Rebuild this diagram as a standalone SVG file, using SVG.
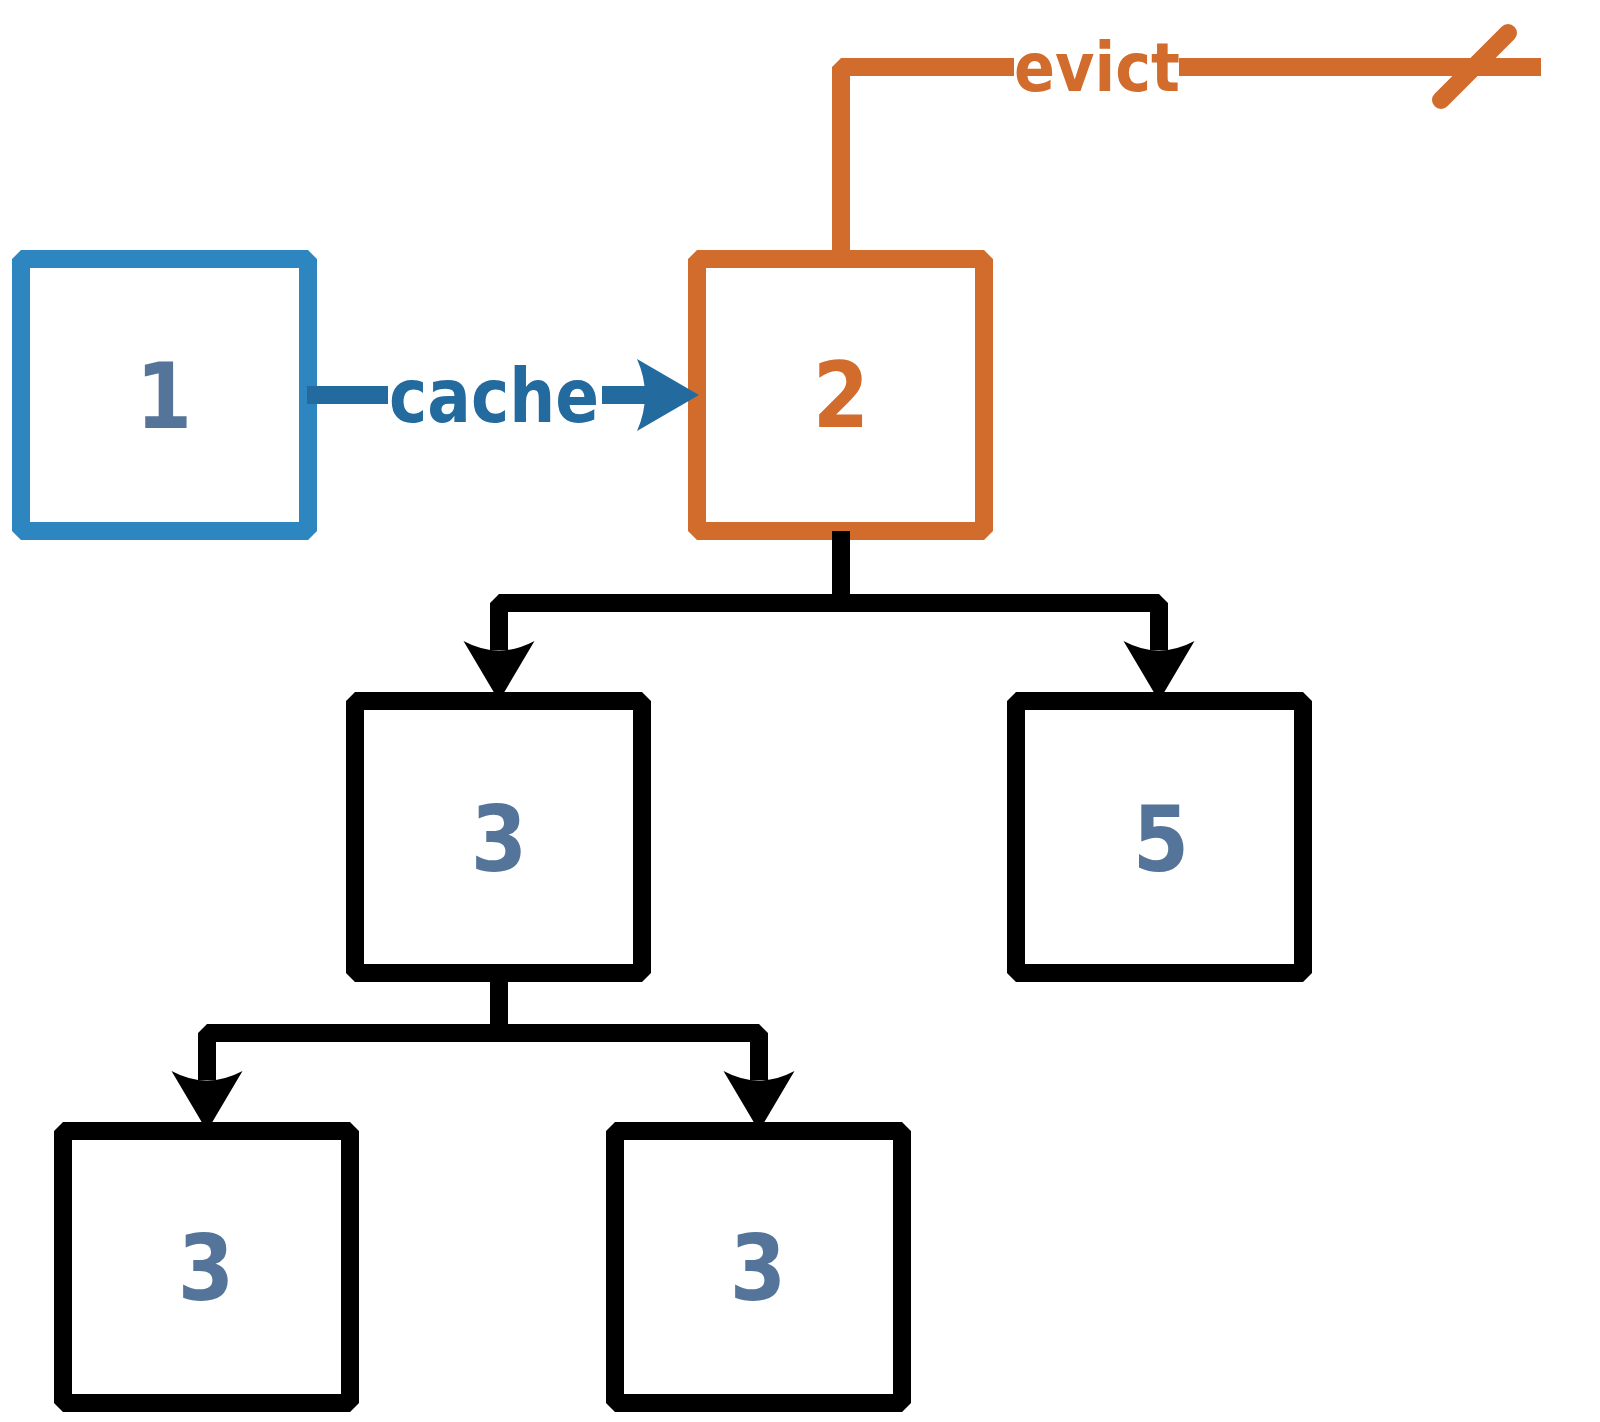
<svg xmlns="http://www.w3.org/2000/svg" width="1600" height="1422" viewBox="0 0 1600 1422">
<style>
.box{fill:#ffffff;stroke-width:18;stroke-linejoin:bevel}
.num{font-family:"DejaVu Sans","Liberation Sans",sans-serif;font-weight:bold;font-size:90px;text-anchor:middle;fill:#547599}
.lbl{font-family:"DejaVu Sans","Liberation Sans",sans-serif;font-weight:bold;text-anchor:middle}
.wire{fill:none;stroke-width:18;stroke-linejoin:bevel;stroke-linecap:butt}
</style>
<rect width="1600" height="1422" fill="#ffffff"/>
<g id="node-1"><rect class="box" x="21" y="259" width="287" height="272" stroke="#2E86C1"/><text class="num" transform="translate(164 428) scale(0.9 1)">1</text></g>
<g id="node-2"><rect class="box" x="697" y="259" width="287" height="272" stroke="#D26C2C"/><text class="num" transform="translate(841 427) scale(0.9 1)" style="fill:#D26C2C">2</text></g>
<g id="node-3"><rect class="box" x="355" y="701" width="287" height="272" stroke="#000000"/><text class="num" transform="translate(499 871) scale(0.9 1)">3</text></g>
<g id="node-5"><rect class="box" x="1016" y="701" width="287" height="272" stroke="#000000"/><text class="num" transform="translate(1161 871) scale(0.9 1)">5</text></g>
<g id="node-3a"><rect class="box" x="63" y="1131" width="287" height="272" stroke="#000000"/><text class="num" transform="translate(206 1300) scale(0.9 1)">3</text></g>
<g id="node-3b"><rect class="box" x="615" y="1131" width="287" height="272" stroke="#000000"/><text class="num" transform="translate(758 1300) scale(0.9 1)">3</text></g>
<g id="connectors">
<g id="edge-cache">
<path class="wire" d="M307 395 H646" stroke="#236A9E"/>
<path d="M699 395 L637 359 Q653 395 637 431 Z" fill="#236A9E"/>
<rect x="388" y="352" width="214" height="86" fill="#ffffff"/>
<text class="lbl" x="494" y="422" font-size="75" fill="#236A9E" textLength="210" lengthAdjust="spacingAndGlyphs">cache</text>
</g>
<g id="edge-evict">
<path class="wire" d="M841 259 V67 H1541" stroke="#D26C2C"/>
<rect x="1014" y="30" width="165" height="75" fill="#ffffff"/>
<text class="lbl" x="1097" y="91" font-size="68" fill="#D26C2C" textLength="166" lengthAdjust="spacingAndGlyphs">evict</text>
<line x1="1441" y1="100" x2="1508" y2="33" stroke="#D26C2C" stroke-width="18" stroke-linecap="round"/>
</g>
<g id="edge-2-3">
<path class="wire" d="M841 531 V603 H499 V650" stroke="#000000"/>
<path d="M499 701 L463.5 641 Q499 660 534.5 641 Z" fill="#000000"/>
</g>
<g id="edge-2-5">
<path class="wire" d="M841 531 V603 H1159 V650" stroke="#000000"/>
<path d="M1159 701 L1123.5 641 Q1159 660 1194.5 641 Z" fill="#000000"/>
</g>
<g id="edge-3-3a">
<path class="wire" d="M499 973 V1033 H207 V1080" stroke="#000000"/>
<path d="M207 1131 L171.5 1071 Q207 1090 242.5 1071 Z" fill="#000000"/>
</g>
<g id="edge-3-3b">
<path class="wire" d="M499 973 V1033 H759 V1080" stroke="#000000"/>
<path d="M759 1131 L723.5 1071 Q759 1090 794.5 1071 Z" fill="#000000"/>
</g>
</g>
</svg>
